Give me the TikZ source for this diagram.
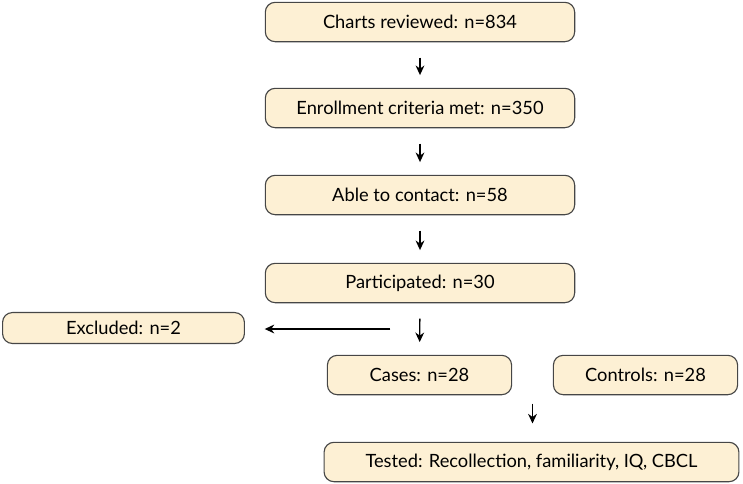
\documentclass[tikz,border=0pt]{standalone}
\usepackage{fontspec}
\setmainfont{Lato}
\usetikzlibrary{arrows.meta,calc}
\definecolor{boxfill}{RGB}{253,240,212}
\definecolor{boxline}{RGB}{70,70,70}
\tikzset{>/.tip={Stealth[length=2.4mm,width=2.2mm]},
  stage/.style={draw=boxline, line width=0.8pt, fill=boxfill, rounded corners=7pt,
    minimum height=28pt, inner sep=0pt, font=\fontsize{13}{15}\selectfont},
  flow/.style={->, line width=1pt, shorten <=11pt, shorten >=9pt}}

\begin{document}
\begin{tikzpicture}[x=0.025cm, y=-0.025cm]
\useasboundingbox (0,0) rectangle (743,483);
\node[stage, minimum width=220pt] (charts) at (420,22) {Charts reviewed: n=834};
\node[stage, minimum width=220pt] (enroll) at (420,108) {Enrollment criteria met: n=350};
\node[stage, minimum width=220pt] (contact) at (420,195) {Able to contact: n=58};
\node[stage, minimum width=220pt] (partic) at (420,283) {Participated: n=30};

\node[stage, minimum width=172pt, minimum height=22pt] (excl) at (123.5,328) {Excluded: n=2};
\node[stage, minimum width=131pt] (cases) at (419.5,375) {Cases: n=28};
\node[stage, minimum width=131pt] (controls) at (645.5,375) {Controls: n=28};
\node[stage, minimum width=295pt] (tested) at (531.5,462) {Tested: Recollection, familiarity, IQ, CBCL};

\coordinate (split) at (420,329);
\coordinate (join) at ($(cases.south)!0.5!(controls.south)$);

\draw[flow] (charts) -- (enroll);
\draw[flow] (enroll) -- (contact);
\draw[flow] (contact) -- (partic);
\draw[flow] (partic) -- (cases);
\draw[->, line width=1pt, shorten <=21pt, shorten >=14pt] (split) -- (split -| excl.east);
\draw[->, line width=1pt, shorten <=6pt, shorten >=13pt] (join) -- (tested.north -| join);
\end{tikzpicture}
\end{document}
